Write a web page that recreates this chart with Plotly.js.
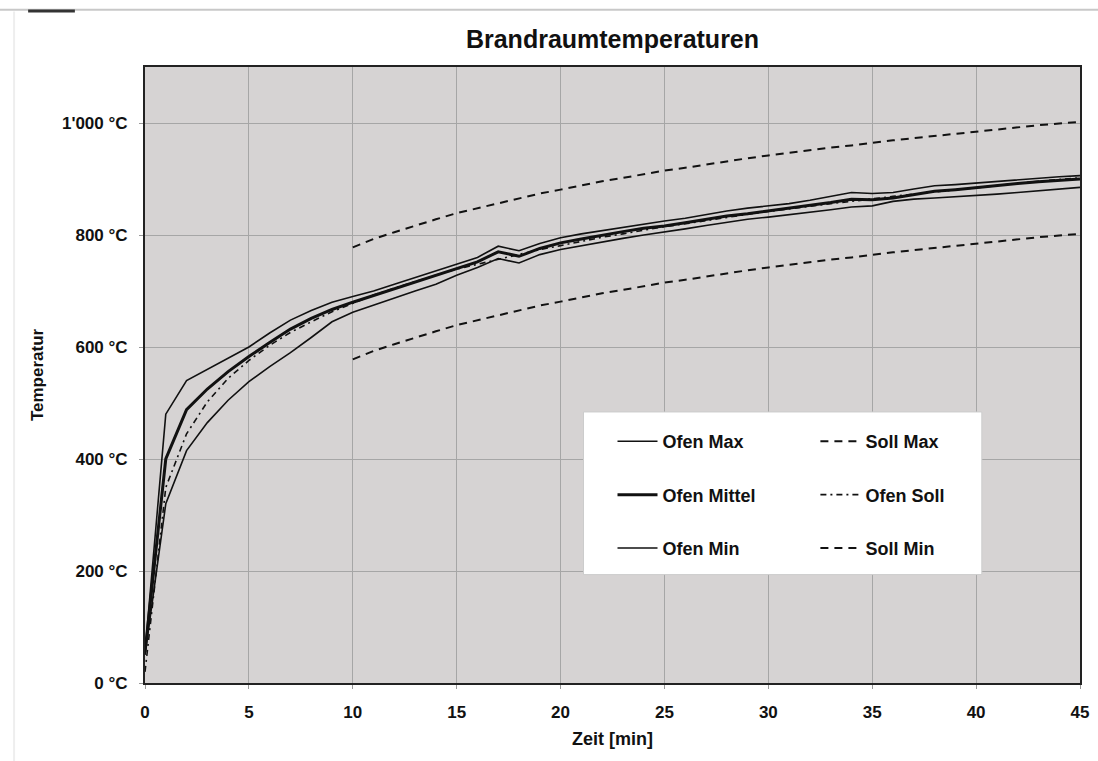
<!DOCTYPE html>
<html>
<head>
<meta charset="utf-8">
<script src="https://cdn.plot.ly/plotly-3.0.1.min.js"></script>
<style>html,body{margin:0;padding:0;background:#fff;}#chart{width:1098px;height:761px;}</style>
</head>
<body>
<div id="chart"></div>
<script>
// Time in minutes
const zeit = [0,1,2,3,4,5,6,7,8,9,10,11,12,13,14,15,16,17,18,19,20,21,22,23,24,25,26,27,28,29,30,31,32,33,34,35,36,37,38,39,40,41,42,43,44,45];
const ofenMax = [55,480,540,560,580,600,625,648,665,680,690,700,712,724,735,748,760,780,772,785,795,802,808,814,820,825,830,837,843,848,852,856,862,869,876,874,876,882,888,890,893,896,899,902,904,906];
const ofenMittel = [55,400,488,525,556,583,608,632,651,667,680,692,704,716,727,740,752,770,762,776,786,793,800,806,812,816,822,828,834,838,843,847,852,858,864,863,866,872,878,881,885,888,892,895,898,900];
const ofenMin = [50,320,415,465,505,538,565,590,617,645,662,675,688,700,712,728,742,758,750,765,774,781,788,794,800,805,811,817,823,828,832,836,840,845,850,852,860,864,866,868,870,873,876,879,882,885];
const ofenSoll = [20,349,445,502,544,576,603,626,645,663,678,693,705,717,728,739,748,757,766,774,781,789,796,802,809,815,820,826,832,837,842,847,851,856,860,865,869,873,877,881,885,888,892,896,899,902];
const zeitSoll = [10,11,12,13,14,15,16,17,18,19,20,21,22,23,24,25,26,27,28,29,30,31,32,33,34,35,36,37,38,39,40,41,42,43,44,45];
const sollMax = [778,793,805,817,828,839,848,857,866,874,881,889,896,902,909,915,920,926,932,937,942,947,951,956,960,965,969,973,977,981,985,988,992,996,999,1002];
const sollMin = [578,593,605,617,628,639,648,657,666,674,681,689,696,702,709,715,720,726,732,737,742,747,751,756,760,765,769,773,777,781,785,788,792,796,799,802];
const yTickVals = [0,200,400,600,800,1000];
const yTickText = ["0 °C","200 °C","400 °C","600 °C","800 °C","1'000 °C"];
const xTickVals = [0,5,10,15,20,25,30,35,40,45];

const F = "'Liberation Sans', Arial, sans-serif";
const traces = [
  {x: zeit, y: ofenMax, name: 'Ofen Max', mode: 'lines', line: {color: '#111', width: 1.6}, legend: 'legend', legendgroup: 'a'},
  {x: zeit, y: ofenMittel, name: 'Ofen Mittel', mode: 'lines', line: {color: '#111', width: 3}, legend: 'legend', legendgroup: 'b'},
  {x: zeit, y: ofenMin, name: 'Ofen Min', mode: 'lines', line: {color: '#111', width: 1.6}, legend: 'legend', legendgroup: 'c'},
  {x: zeitSoll, y: sollMax, name: 'Soll Max', mode: 'lines', line: {color: '#111', width: 2, dash: '8px,6px'}, legend: 'legend2', legendgroup: 'd'},
  {x: zeit, y: ofenSoll, name: 'Ofen Soll', mode: 'lines', line: {color: '#111', width: 1.6, dash: '6px,4px,2px,4px'}, legend: 'legend2', legendgroup: 'e'},
  {x: zeitSoll, y: sollMin, name: 'Soll Min', mode: 'lines', line: {color: '#111', width: 2, dash: '8px,6px'}, legend: 'legend2', legendgroup: 'f'}
];

const legendCommon = {
  bgcolor: 'rgba(0,0,0,0)', borderwidth: 0,
  font: {family: F, size: 18, color: '#111', weight: 'bold'},
  traceorder: 'grouped', tracegroupgap: 27, itemwidth: 40,
  yanchor: 'top', xanchor: 'left'
};

const layout = {
  width: 1098, height: 761,
  paper_bgcolor: '#ffffff',
  plot_bgcolor: '#d6d3d3',
  margin: {l: 145, r: 18, t: 67, b: 78},
  showlegend: true,
  title: {text: 'Brandraumtemperaturen', font: {family: F, size: 25, color: '#111', weight: 'bold'}, x: 0.5, xref: 'paper', y: 0.948, yanchor: 'middle'},
  xaxis: {
    range: [0, 45], tickvals: xTickVals, ticktext: xTickVals.map(String),
    showgrid: true, gridcolor: '#a6a6a6', gridwidth: 1,
    showline: true, linecolor: '#222', linewidth: 2, mirror: true,
    ticks: 'outside', ticklen: 4, tickcolor: '#999',
    ticklabelstandoff: 9,
    zeroline: false,
    tickfont: {family: F, size: 17, color: '#111', weight: 'bold'},
    title: {text: 'Zeit [min]', font: {family: F, size: 18, color: '#111', weight: 'bold'}, standoff: 11}
  },
  yaxis: {
    range: [0, 1100], tickvals: yTickVals, ticktext: yTickText,
    showgrid: true, gridcolor: '#a6a6a6', gridwidth: 1,
    showline: true, linecolor: '#222', linewidth: 2, mirror: true,
    ticks: 'outside', ticklen: 4, tickcolor: '#999',
    ticklabelstandoff: 8,
    zeroline: false,
    tickfont: {family: F, size: 17, color: '#111', weight: 'bold'},
    title: {text: 'Temperatur', font: {family: F, size: 17, color: '#111', weight: 'bold'}, standoff: 14}
  },
  legend: Object.assign({}, legendCommon, {x: 0.500, y: 0.422}),
  legend2: Object.assign({}, legendCommon, {x: 0.717, y: 0.422}),
  shapes: [
    {type: 'rect', xref: 'paper', yref: 'paper', x0: 0.469, x1: 0.895, y0: 0.176, y1: 0.44, fillcolor: '#ffffff', line: {color: '#cccccc', width: 1}, layer: 'above'},
    {type: 'line', xref: 'paper', yref: 'paper', x0: -0.16, x1: 1.02, y0: 1.093, y1: 1.093, line: {color: '#c8c8c8', width: 2}},
    {type: 'line', xref: 'paper', yref: 'paper', x0: -0.125, x1: -0.075, y0: 1.091, y1: 1.091, line: {color: '#333', width: 3}},
    {type: 'line', xref: 'paper', yref: 'paper', x0: -0.14, x1: -0.14, y0: -0.127, y1: 1.09, line: {color: '#eeeeee', width: 2}}
  ]
};

Plotly.newPlot('chart', traces, layout, {displayModeBar: false, staticPlot: true});
</script>
</body>
</html>
